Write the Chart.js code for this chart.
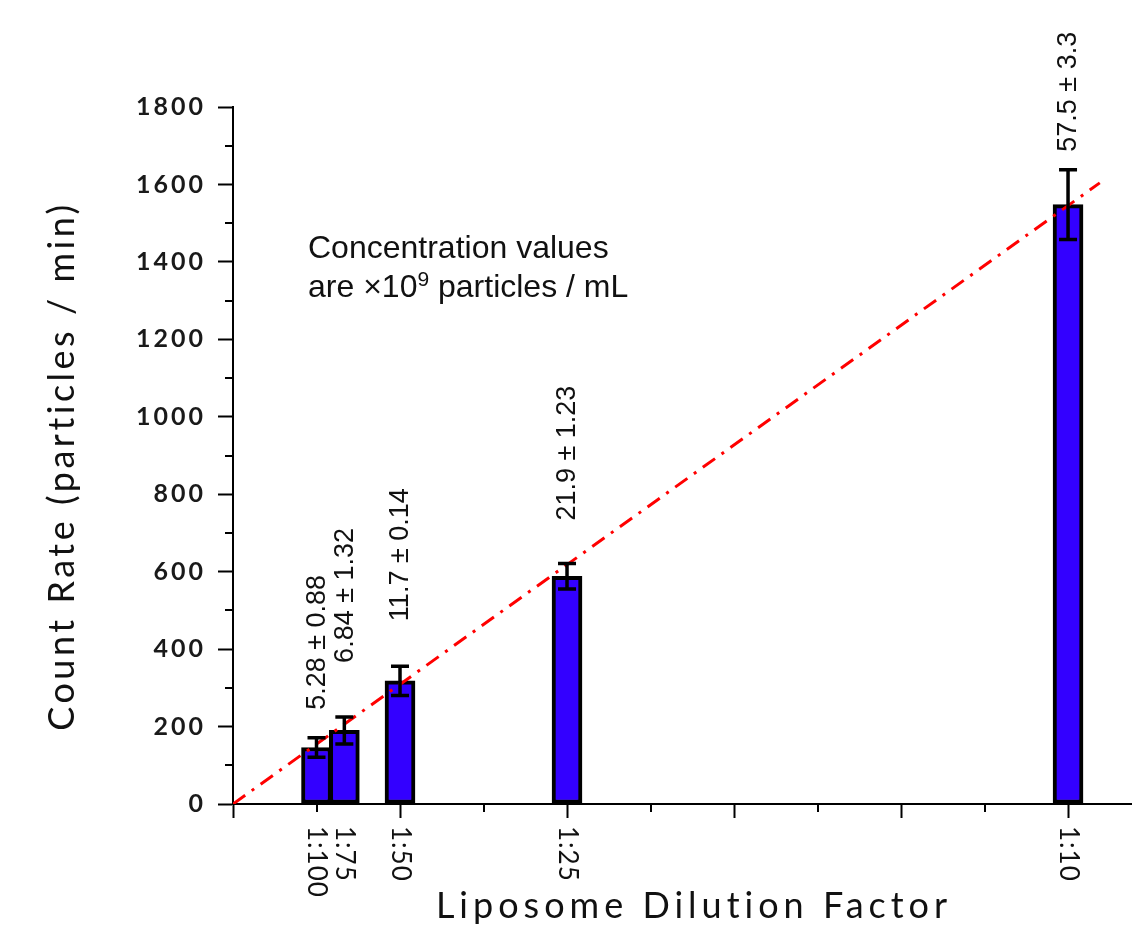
<!DOCTYPE html>
<html><head><meta charset="utf-8">
<script src="https://cdn.jsdelivr.net/npm/chart.js@4/dist/chart.umd.min.js"></script>
<style>html,body{margin:0;padding:0;background:#fff;overflow:hidden}canvas{display:block}</style>
</head><body>
<canvas id="c" width="1132" height="926"></canvas>
<script>
// ---- data ----
const dilutionLabels = ['1:100', '1:75', '1:50', '1:25', '1:10'];
const dilutionFraction = [0.01, 0.013333, 0.02, 0.04, 0.1];
const countRate = [146, 190, 318, 588, 1548];
const countErr = [25, 35, 38, 33, 90];
const concLabels = ['5.28 \u00b1 0.88', '6.84 \u00b1 1.32', '11.7 \u00b1 0.14', '21.9 \u00b1 1.23', '57.5 \u00b1 3.3'];
const fitX = [0, 0.1038];
const fitY = [0, 1604];
const yTitle = 'Count Rate (particles / min)';
const xTitle = 'Liposome Dilution Factor';
const noteLine1 = 'Concentration values';
const noteLine2a = 'are \u00d710';
const noteSup = '9';
const noteLine2b = ' particles / mL';

const isMajorX = v => Math.round(v * 100) % 2 === 0;
const isMajorY = v => Math.round(v) % 200 === 0;

const decor = {
  id: 'decor',
  beforeDraw(chart) { chart.ctx.letterSpacing = '3px'; },
  afterDatasetsDraw(chart, args, opts) {
    const ctx = chart.ctx;
    const xs = chart.scales.x, ys = chart.scales.y;
    const ca = chart.chartArea;
    ctx.save();
    ctx.letterSpacing = '0px';
    // minor ticks
    ctx.strokeStyle = '#000'; ctx.lineWidth = 2;
    xs.ticks.forEach(t => {
      if (!isMajorX(t.value)) {
        const px = Math.round(xs.getPixelForValue(t.value));
        ctx.beginPath(); ctx.moveTo(px, ca.bottom); ctx.lineTo(px, ca.bottom + 8); ctx.stroke();
      }
    });
    ys.ticks.forEach(t => {
      if (!isMajorY(t.value)) {
        const py = Math.round(ys.getPixelForValue(t.value));
        ctx.beginPath(); ctx.moveTo(ca.left - 8, py); ctx.lineTo(ca.left, py); ctx.stroke();
      }
    });
    // error bars
    ctx.lineWidth = 3.5; ctx.strokeStyle = '#000';
    dilutionFraction.forEach((x, i) => {
      const px = xs.getPixelForValue(x);
      const t = ys.getPixelForValue(countRate[i] + countErr[i]);
      const b = ys.getPixelForValue(countRate[i] - countErr[i]);
      ctx.beginPath();
      ctx.moveTo(px, t); ctx.lineTo(px, b);
      ctx.moveTo(px - 9, t); ctx.lineTo(px + 9, t);
      ctx.moveTo(px - 9, b); ctx.lineTo(px + 9, b);
      ctx.stroke();
    });
    // concentration labels (rotated, bottom-to-top)
    ctx.fillStyle = '#111';
    ctx.font = '27px "Liberation Sans", Arial, sans-serif';
    ctx.textAlign = 'left'; ctx.textBaseline = 'middle';
    dilutionFraction.forEach((x, i) => {
      const px = xs.getPixelForValue(x);
      const t = ys.getPixelForValue(countRate[i] + countErr[i]);
      ctx.save();
      ctx.translate(px, t - opts.labelGaps[i]);
      ctx.rotate(-Math.PI / 2);
      ctx.fillText(concLabels[i], 0, 1);
      ctx.restore();
    });
    // x category labels (rotated, top-to-bottom)
    ctx.font = '26px Lato, sans-serif';
    dilutionFraction.forEach((x, i) => {
      const px = xs.getPixelForValue(x);
      ctx.save();
      ctx.translate(px, ca.bottom + 22);
      ctx.rotate(Math.PI / 2);
      ctx.letterSpacing = '1px';
      ctx.fillText(dilutionLabels[i], 0, 0);
      ctx.restore();
    });
    // axis titles
    ctx.font = '36px Lato, sans-serif';
    ctx.letterSpacing = '3.5px';
    ctx.textAlign = 'center'; ctx.textBaseline = 'middle';
    ctx.save();
    ctx.translate(62, 466);
    ctx.rotate(-Math.PI / 2);
    ctx.fillText(yTitle, 0, 0);
    ctx.restore();
    ctx.letterSpacing = '5px';
    ctx.textBaseline = 'alphabetic';
    ctx.fillText(xTitle, 694, 918);
    // note
    ctx.letterSpacing = '0px';
    ctx.textAlign = 'left';
    ctx.font = '32px "Liberation Sans", Arial, sans-serif';
    ctx.fillText(noteLine1, 308, 258);
    let x0 = 308;
    ctx.fillText(noteLine2a, x0, 297);
    x0 += ctx.measureText(noteLine2a).width;
    ctx.font = '21px "Liberation Sans", Arial, sans-serif';
    ctx.fillText(noteSup, x0, 286);
    x0 += ctx.measureText(noteSup).width;
    ctx.font = '32px "Liberation Sans", Arial, sans-serif';
    ctx.fillText(noteLine2b, x0, 297);
    ctx.restore();
  }
};

new Chart(document.getElementById('c'), {
  type: 'bar',
  data: {
    datasets: [
      {
        type: 'line',
        data: fitX.map((x, i) => ({ x, y: fitY[i] })),
        borderColor: '#ff0000', borderWidth: 3, borderDash: [15, 8, 3, 8],
        pointRadius: 0, fill: false, tension: 0, order: 0
      },
      {
        type: 'bar',
        data: dilutionFraction.map((x, i) => ({ x, y: countRate[i] })),
        backgroundColor: '#3300ff', borderColor: '#000', borderWidth: 4,
        borderSkipped: false, barThickness: 30, order: 1
      }
    ]
  },
  options: {
    responsive: false, animation: false, devicePixelRatio: 1,
    layout: { padding: { top: 107, left: 0, right: 0, bottom: 0 } },
    plugins: { legend: { display: false }, tooltip: { enabled: false },
      decor: { labelGaps: [28, 54, 45, 43, 18] } },
    scales: {
      x: {
        type: 'linear', min: 0, max: 0.10766, offset: false,
        grid: { drawOnChartArea: false, offset: false, tickLength: 14, tickWidth: 2,
          tickColor: c => isMajorX(c.tick.value) ? '#000' : 'rgba(0,0,0,0)' },
        border: { color: '#000', width: 2 },
        ticks: { stepSize: 0.01, display: false, includeBounds: false },
        afterFit: s => { s.height = 122; }
      },
      y: {
        min: 0, max: 1800,
        grid: { drawOnChartArea: false, tickLength: 15, tickWidth: 2,
          tickColor: c => isMajorY(c.tick.value) ? '#000' : 'rgba(0,0,0,0)' },
        border: { color: '#000', width: 2 },
        ticks: { stepSize: 100, padding: 12, color: '#1a1a1a',
          font: { family: 'Lato', size: 25, weight: 'bold' },
          callback: v => isMajorY(v) ? String(v) : '' },
        afterFit: s => { s.width = 233; }
      }
    }
  },
  plugins: [decor]
});
</script>
</body></html>
